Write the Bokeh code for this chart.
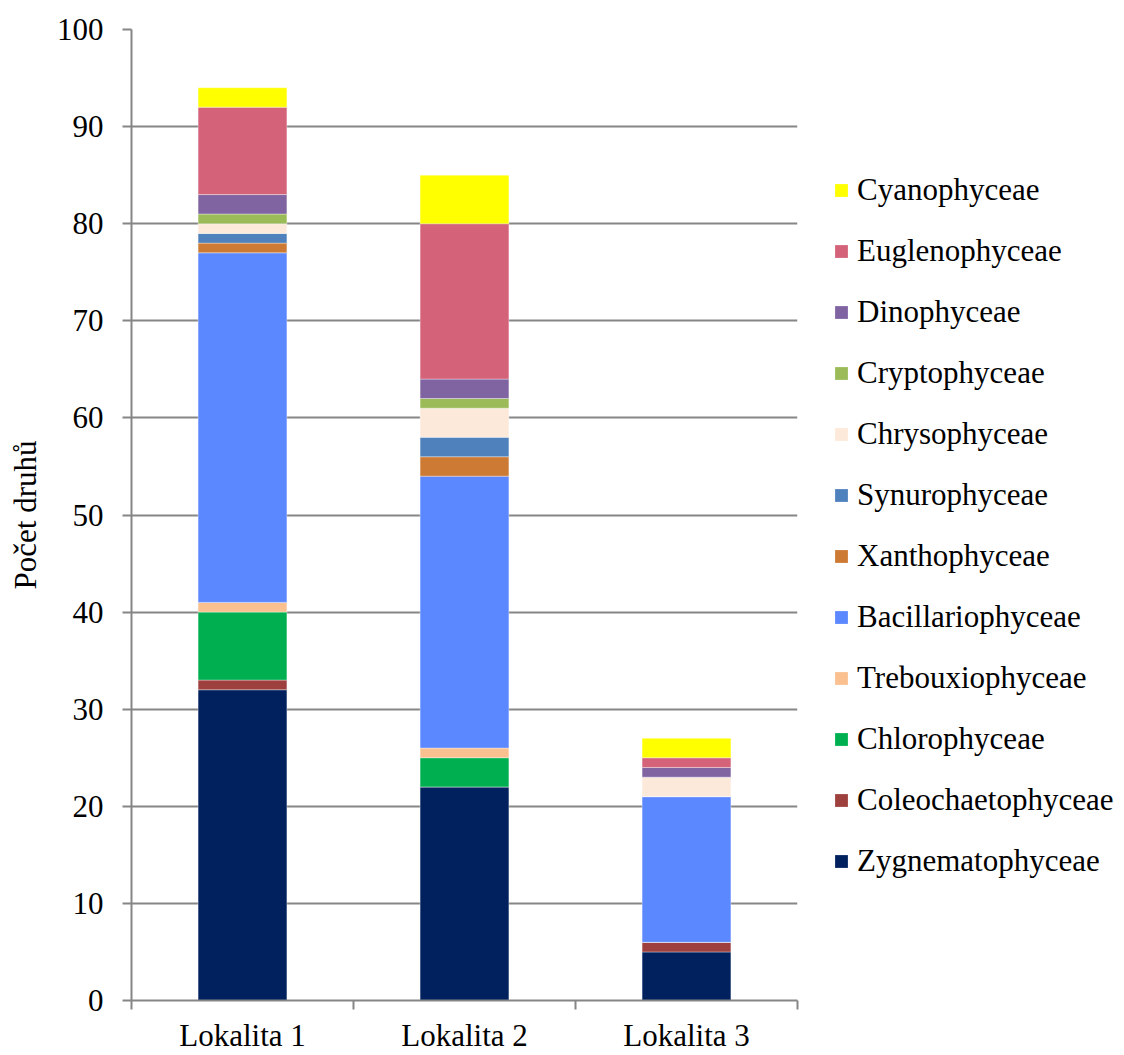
from bokeh.plotting import figure
from bokeh.layouts import row
from bokeh.models import (ColumnDataSource, Range1d, FixedTicker, Legend, LegendItem)
from bokeh.embed import file_html
from bokeh.resources import INLINE

# ---- data ----
lokality = ["Lokalita 1", "Lokalita 2", "Lokalita 3"]
x_pos = [0.5, 1.5, 2.5]

zygnematophyceae = [32, 22, 5]
coleochaetophyceae = [1, 0, 1]
chlorophyceae = [7, 3, 0]
trebouxiophyceae = [1, 1, 0]
bacillariophyceae = [36, 28, 15]
xanthophyceae = [1, 2, 0]
synurophyceae = [1, 2, 0]
chrysophyceae = [1, 3, 2]
cryptophyceae = [1, 1, 0]
dinophyceae = [2, 2, 1]
euglenophyceae = [9, 16, 1]
cyanophyceae = [2, 5, 2]

class_names = ["Zygnematophyceae", "Coleochaetophyceae", "Chlorophyceae",
               "Trebouxiophyceae", "Bacillariophyceae", "Xanthophyceae",
               "Synurophyceae", "Chrysophyceae", "Cryptophyceae",
               "Dinophyceae", "Euglenophyceae", "Cyanophyceae"]
class_values = [zygnematophyceae, coleochaetophyceae, chlorophyceae,
                trebouxiophyceae, bacillariophyceae, xanthophyceae,
                synurophyceae, chrysophyceae, cryptophyceae,
                dinophyceae, euglenophyceae, cyanophyceae]
colors = ["#00215E", "#9E403D", "#00B050", "#FAC090", "#5B87FF", "#CD7A35",
          "#4F81BD", "#FDE9D9", "#9BBB59", "#8064A2", "#D4637A", "#FFFF00"]

y_ticks = list(range(0, 101, 10))

FONT = "Liberation Serif"
FS = "31px"
GRID = "#868686"

data = {"x": x_pos}
for n, v in zip(class_names, class_values):
    data[n] = v
source = ColumnDataSource(data)

H = 1055
p = figure(width=800, height=H, output_backend="svg", toolbar_location=None,
           x_range=Range1d(0, 3), y_range=Range1d(0, 100),
           min_border_left=131, min_border_right=3, min_border_top=29,
           min_border_bottom=55)
p.outline_line_color = None
p.background_fill_color = "white"
p.border_fill_color = "white"

renderers = p.vbar_stack(class_names, x="x", width=0.4, source=source,
                         color=colors, line_color="white", line_alpha=0.35,
                         line_width=1)

# x axis: labels at centers, tick marks at category boundaries
xa = p.xaxis[0]
xa.ticker = FixedTicker(ticks=x_pos, minor_ticks=[0, 1, 2, 3])
xa.major_label_overrides = {xv: lab for xv, lab in zip(x_pos, lokality)}
xa.major_tick_out = 0
xa.major_tick_in = 0
xa.minor_tick_out = 9
xa.minor_tick_in = 0
xa.minor_tick_line_color = GRID
xa.minor_tick_line_width = 2
xa.axis_line_color = GRID
xa.axis_line_width = 2
xa.major_label_text_font = FONT
xa.major_label_text_font_size = FS
xa.major_label_text_color = "black"
xa.major_label_standoff = 8

ya = p.yaxis[0]
ya.ticker = FixedTicker(ticks=y_ticks)
ya.minor_tick_line_color = None
ya.major_tick_out = 9
ya.major_tick_in = 0
ya.major_tick_line_color = GRID
ya.major_tick_line_width = 2
ya.axis_line_color = GRID
ya.axis_line_width = 2
ya.major_label_text_font = FONT
ya.major_label_text_font_size = FS
ya.major_label_text_color = "black"
ya.major_label_standoff = 19
ya.axis_label = "Počet druhů"
ya.axis_label_text_font = FONT
ya.axis_label_text_font_size = FS
ya.axis_label_text_font_style = "normal"
ya.axis_label_text_color = "black"
ya.axis_label_standoff = 11

p.xgrid.grid_line_color = None
p.ygrid.ticker = FixedTicker(ticks=y_ticks)
p.ygrid.grid_line_color = GRID
p.ygrid.grid_line_width = 2

# ---- legend panel (separate figure; hidden swatch renderers) ----
lg = figure(width=324, height=H, output_backend="svg", toolbar_location=None,
            x_range=Range1d(10, 11), y_range=Range1d(1000, 1100),
            x_axis_type=None, y_axis_type=None,
            min_border_left=0, min_border_right=0, min_border_top=0,
            min_border_bottom=0)
lg.outline_line_color = None
lg.xgrid.grid_line_color = None
lg.ygrid.grid_line_color = None
swatches = []
for n, c in zip(class_names, colors):
    r = lg.vbar(x="x", top=n, width=0, source=source,
                fill_color=c, line_color=None)
    r.visible = False
    swatches.append(r)

items = [LegendItem(label=n, renderers=[r]) for n, r in zip(class_names, swatches)]
items = items[::-1]
legend = Legend(items=items, location=(33, 121), orientation="vertical",
                label_text_font=FONT, label_text_font_size=FS,
                label_text_color="black", glyph_width=16, glyph_height=16,
                label_height=36, label_standoff=8, spacing=25, padding=0,
                margin=0, border_line_color=None, background_fill_alpha=0,
                inactive_fill_alpha=0)
lg.add_layout(legend)

layout = row(p, lg, spacing=0)
open("out.html", "w").write(file_html(layout, INLINE))
